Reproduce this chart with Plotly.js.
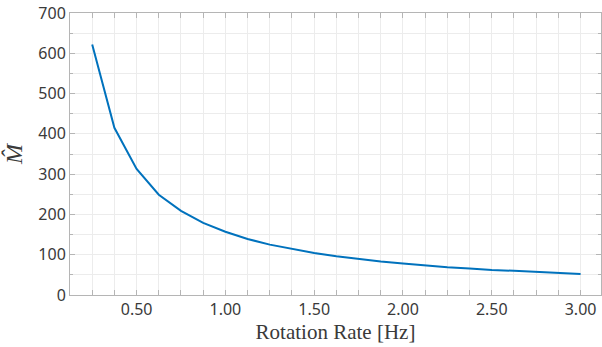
<!DOCTYPE html>
<html>
<head>
<meta charset="utf-8">
<script src="https://cdn.plot.ly/plotly-3.0.1.min.js"></script>
<style>html,body{margin:0;padding:0;background:#fff;}#chart{width:602px;height:347px;}</style>
</head>
<body>
<div id="chart"></div>
<script>
const rotationRate = [0.25, 0.375, 0.5, 0.625, 0.75, 0.875, 1.0, 1.125, 1.25, 1.375, 1.5, 1.625, 1.75, 1.875, 2.0, 2.125, 2.25, 2.375, 2.5, 2.625, 2.75, 2.875, 3.0];
const mHat = [622, 415, 313, 249, 209, 179, 157, 139, 125, 114, 104, 96, 89, 83, 78, 73, 69, 66, 62, 60, 57, 54, 52];
const xTickVals = [0.5, 1.0, 1.5, 2.0, 2.5, 3.0];
const xTickText = ["0.50", "1.00", "1.50", "2.00", "2.50", "3.00"];
const yTickVals = [0, 100, 200, 300, 400, 500, 600, 700];

const trace = {
  x: rotationRate, y: mHat, type: 'scatter', mode: 'lines',
  line: {color: '#0072BD', width: 2}, hoverinfo: 'skip'
};
const axisCommon = {
  showline: true, linecolor: '#b5b5b5', linewidth: 1, mirror: 'ticks',
  ticks: 'inside', ticklen: 5, tickcolor: '#b5b5b5',
  showgrid: true, gridcolor: '#ececec', gridwidth: 1, zeroline: false,
  tickfont: {family: 'Noto Sans', size: 16, color: '#3a3a3a'}
};
const layout = {
  width: 602, height: 347,
  margin: {l: 70, r: 1, t: 13, b: 52},
  paper_bgcolor: '#fff', plot_bgcolor: '#fff', showlegend: false,
  xaxis: Object.assign({}, axisCommon, {
    range: [0.125, 3.115], tickvals: xTickVals, ticktext: xTickText,
    minor: {dtick: 0.125, tick0: 0, ticks: 'inside', ticklen: 5, tickcolor: '#b5b5b5', showgrid: true, gridcolor: '#ececec'},
    title: {text: 'Rotation Rate [Hz]', font: {family: 'Liberation Serif', size: 21, color: '#3a3a3a'}, standoff: 4}
  }),
  yaxis: Object.assign({}, axisCommon, {
    range: [0, 700], tickvals: yTickVals,
    minor: {dtick: 50, tick0: 0, ticks: 'inside', ticklen: 3, tickcolor: '#b5b5b5', showgrid: true, gridcolor: '#ececec'},
    title: {text: '<i>M&#770;</i>', font: {family: 'Liberation Serif', size: 24, color: '#3a3a3a'}, standoff: 8}
  })
};
Plotly.newPlot('chart', [trace], layout, {staticPlot: true, displayModeBar: false});
</script>
</body>
</html>
